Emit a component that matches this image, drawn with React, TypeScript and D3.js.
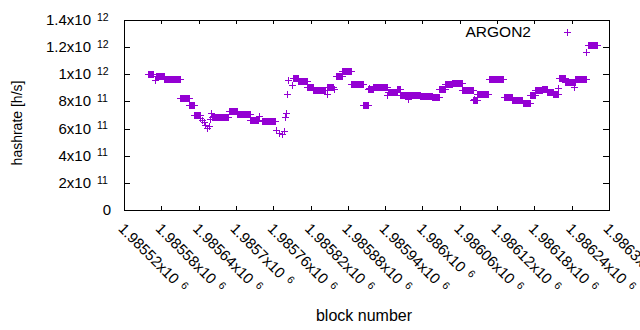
import React from "react";
import * as d3 from "d3";

const BASE = 1985520;
// runs of consecutive blocks with the same estimated hashrate (block offsets from BASE)
const runStart = [38, 52, 64, 90, 105, 113, 142, 169, 182, 203, 222, 272, 280, 294, 304, 327, 341, 351, 365, 385, 393, 400, 425, 439, 444, 476, 495, 506, 516, 527, 544, 561, 568, 587, 611, 624, 642, 653, 661, 672, 680, 690, 699, 709, 726, 746];
const runEnd = [47, 64, 90, 104, 112, 122, 167, 182, 203, 216, 243, 280, 294, 304, 323, 336, 350, 365, 384, 392, 400, 423, 439, 444, 476, 495, 506, 516, 527, 543, 561, 568, 585, 609, 624, 640, 653, 661, 672, 680, 690, 698, 709, 725, 743, 761];
const runRate = [10.0e11, 9.9e11, 9.62e11, 8.22e11, 7.77e11, 7.0e11, 6.85e11, 7.33e11, 7.11e11, 6.63e11, 6.56e11, 9.76e11, 9.47e11, 9.1e11, 8.81e11, 9.1e11, 9.84e11, 10.21e11, 9.32e11, 7.77e11, 8.92e11, 9.03e11, 8.73e11, 8.95e11, 8.47e11, 8.4e11, 8.36e11, 8.9e11, 9.25e11, 9.39e11, 8.81e11, 8.14e11, 8.55e11, 9.62e11, 8.36e11, 8.14e11, 7.85e11, 8.44e11, 8.84e11, 8.95e11, 8.73e11, 8.58e11, 9.69e11, 9.43e11, 9.65e11, 12.19e11];
// isolated blocks
const singleBlock = [50, 123, 125, 128, 130, 133, 136, 138, 140, 217, 245, 250, 254, 257, 259, 260, 262, 264, 270, 326, 338, 394, 423, 456, 563, 698, 724, 743];
const singleRate = [9.58e11, 6.8e11, 6.6e11, 6.45e11, 6.3e11, 6.06e11, 6.2e11, 6.7e11, 7.12e11, 6.93e11, 5.9e11, 5.7e11, 5.6e11, 5.82e11, 6.85e11, 7.12e11, 8.55e11, 9.58e11, 9.21e11, 8.55e11, 8.89e11, 8.99e11, 8.44e11, 8.16e11, 8.18e11, 8.99e11, 9.06e11, 11.62e11];

const xTickValues = [1985520, 1985580, 1985640, 1985700, 1985760, 1985820, 1985880, 1985940, 1986000, 1986060, 1986120, 1986180, 1986240, 1986300];
const yTickValues = [0, 2e11, 4e11, 6e11, 8e11, 1e12, 1.2e12, 1.4e12];
const seriesName = "ARGON2";
const xTitle = "block number";
const yTitle = "hashrate [h/s]";

const COLOR = "#9400D3";
const FONT = "'Liberation Sans', Arial, sans-serif";
const L = 124, R = 609, T = 20, B = 210;

function splitExp(v: number) {
  if (v === 0) return { m: "0", e: "" };
  const e = Math.floor(Math.log10(v) + 1e-9);
  const m = +(v / Math.pow(10, e)).toPrecision(8);
  return { m: String(m), e: String(e) };
}

export default function App() {
  const x = d3.scaleLinear().domain([1985520, 1986300]).range([L, R]);
  const y = d3.scaleLinear().domain([0, 1.4e12]).range([B, T]);

  const pts: [number, number][] = [];
  runStart.forEach((s, i) => {
    for (let b = s; b <= runEnd[i]; b++) pts.push([BASE + b, runRate[i]]);
  });
  singleBlock.forEach((b, i) => pts.push([BASE + b, singleRate[i]]));

  const plus = (cx: number, cy: number) => {
    const px = Math.round(cx) + 0.5, py = Math.round(cy) + 0.5;
    return `M${px - 3.5},${py}h7M${px},${py - 3.5}v7`;
  };
  const d = pts.map(([b, v]) => plus(x(b), y(v))).join("");

  return (
    <svg width={640} height={330} style={{ position: "absolute", left: 0, top: 0, background: "#fff" }} fontFamily={FONT}>
      <rect x={0} y={0} width={640} height={330} fill="#fff" />
      <g stroke="#000" strokeWidth={1}>
        {yTickValues.map((v) => {
          const yy = Math.round(y(v)) + 0.5;
          return (
            <g key={v}>
              <line x1={L} x2={L + 6} y1={yy} y2={yy} />
              <line x1={R - 6} x2={R} y1={yy} y2={yy} />
            </g>
          );
        })}
        {xTickValues.map((v) => {
          const xx = Math.round(x(v)) + 0.5;
          return (
            <g key={v}>
              <line x1={xx} x2={xx} y1={B} y2={B - 4} />
              <line x1={xx} x2={xx} y1={T} y2={T + 4} />
            </g>
          );
        })}
      </g>
      <path d={d} stroke={COLOR} strokeWidth={1} fill="none" />
      <rect x={L + 0.5} y={T + 0.5} width={R - L} height={B - T} fill="none" stroke="#000" strokeWidth={1} />
      {yTickValues.map((v) => {
        const { m, e } = splitExp(v);
        const yy = y(v);
        if (!e) {
          return (
            <text key={v} x={111} y={yy + 5} textAnchor="end" fontSize={15}>{m}</text>
          );
        }
        return (
          <g key={v}>
            <text x={91} y={yy + 5} textAnchor="end" fontSize={15}>{m + "x10"}</text>
            <text x={97} y={yy + 0.7} fontSize={10.5}>{e}</text>
          </g>
        );
      })}
      {xTickValues.map((v) => {
        const { m, e } = splitExp(v);
        return (
          <g key={v} transform={`translate(${x(v) - 3},226) rotate(45)`}>
            <text x={0} y={5} fontSize={15}>
              {m + "x10"}
              <tspan dx={6} dy={-4.5} fontSize={10.5}>{e}</tspan>
            </text>
          </g>
        );
      })}
      <text x={364} y={321} textAnchor="middle" fontSize={16}>{xTitle}</text>
      <text transform="translate(22,123) rotate(-90)" textAnchor="middle" fontSize={14}>{yTitle}</text>
      <text x={531} y={37} textAnchor="end" fontSize={15.5}>{seriesName}</text>
      <path d={plus(567, 32)} stroke={COLOR} strokeWidth={1} />
    </svg>
  );
}
